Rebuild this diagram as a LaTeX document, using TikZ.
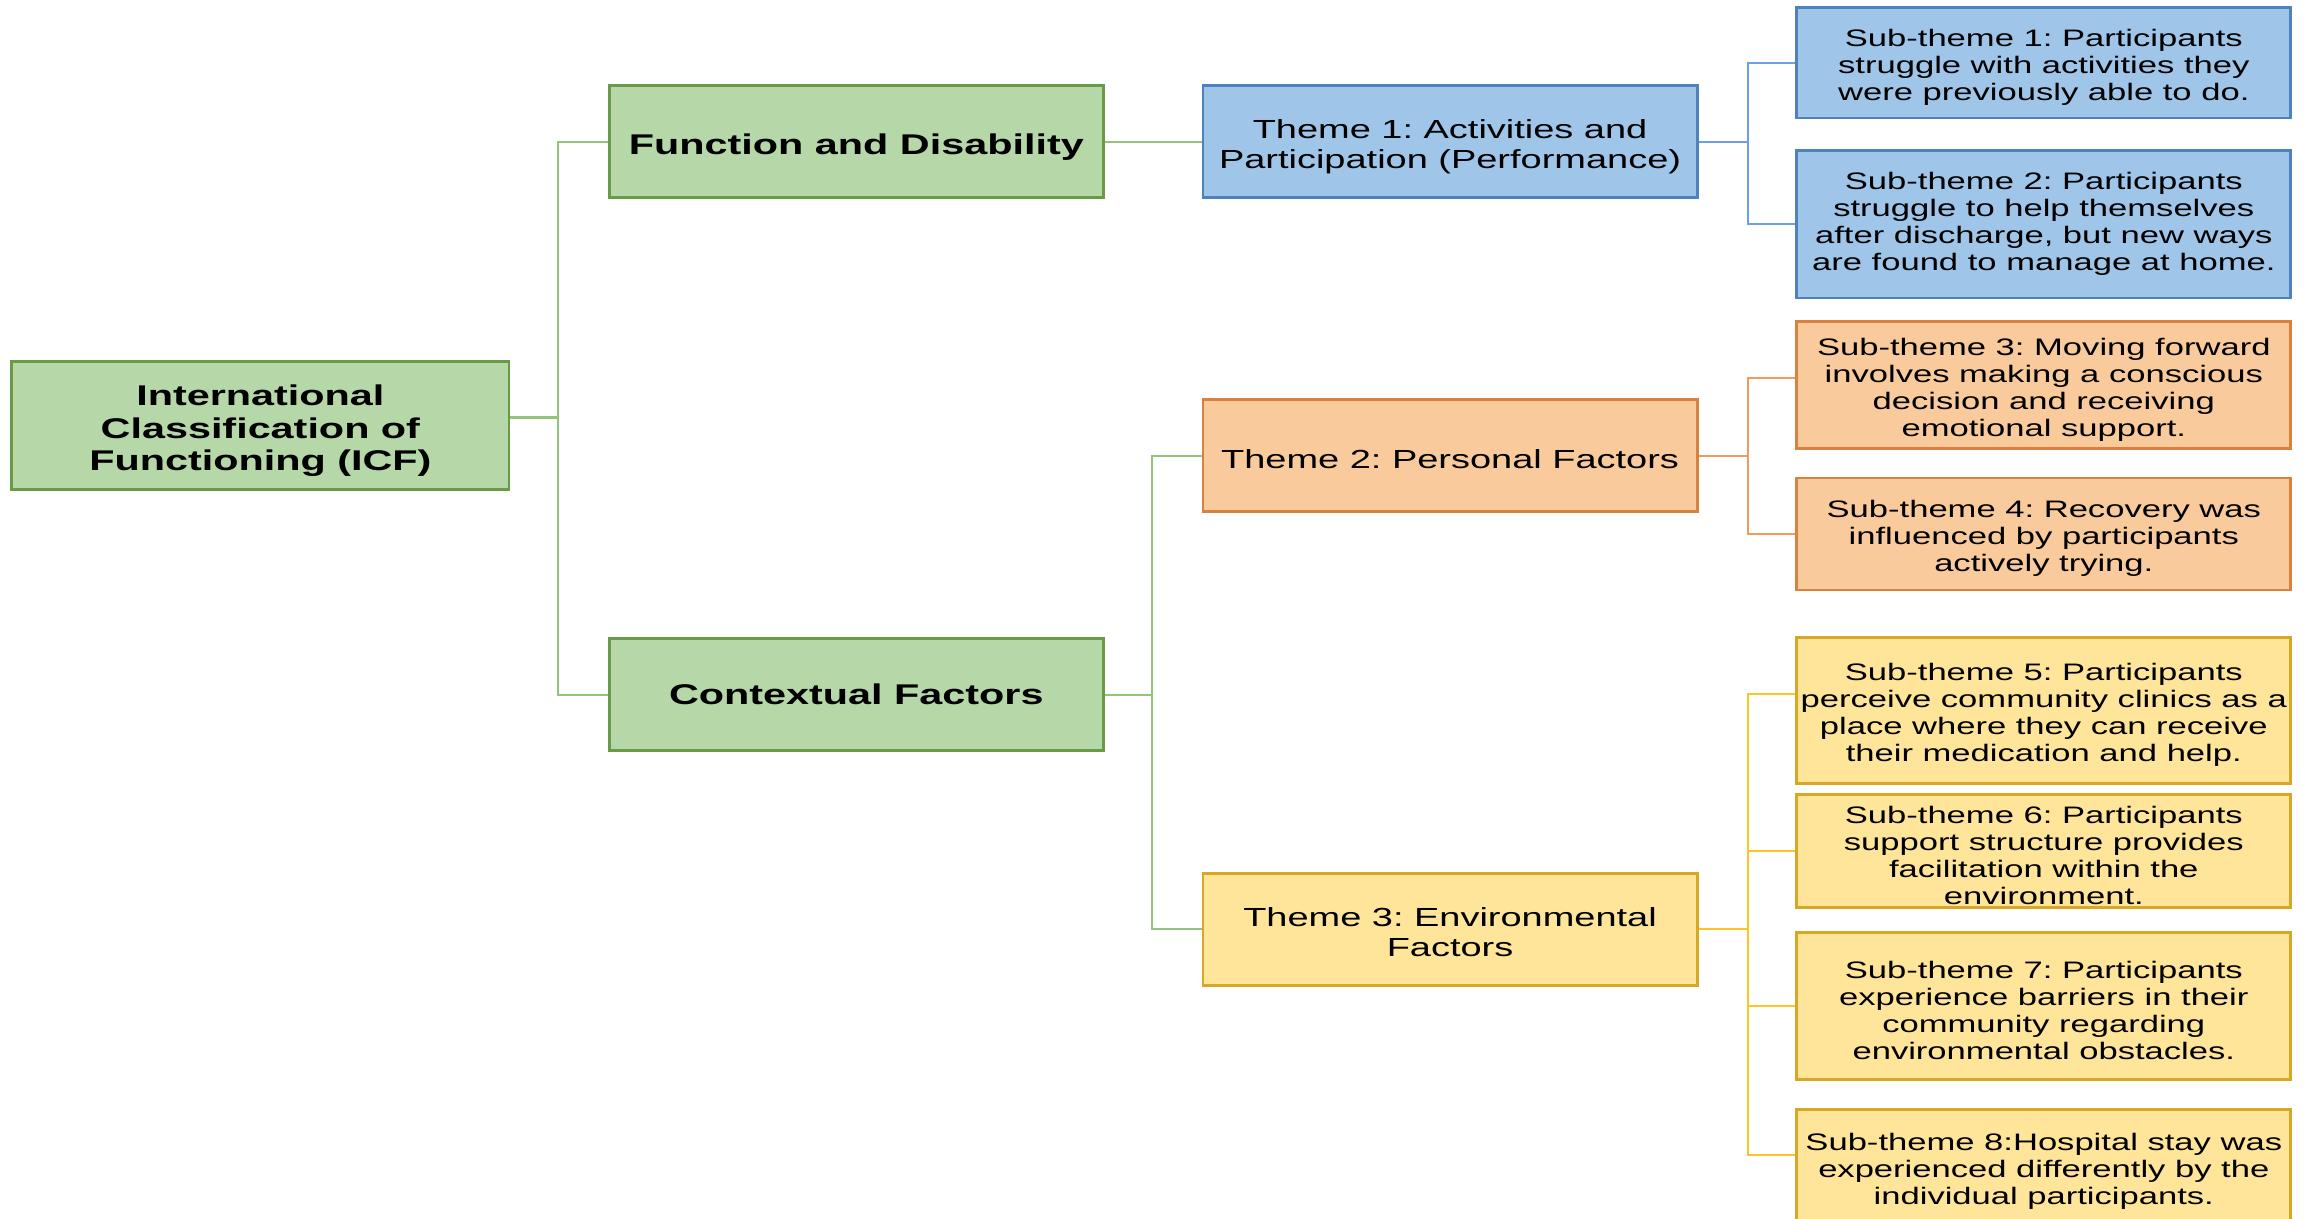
\documentclass[tikz,border=0pt]{standalone}
\usepackage{xcolor}
\usepackage{fontspec}
\setmainfont{Liberation Sans}[FakeStretch=1.45]
\usetikzlibrary{positioning}
\frenchspacing

\definecolor{icfgreen}{HTML}{B6D7A8}
\definecolor{icfgreendark}{HTML}{6A9A48}
\definecolor{icfgreenline}{HTML}{93C47D}
\definecolor{icfblue}{HTML}{9FC5E8}
\definecolor{icfbluedark}{HTML}{4F81BD}
\definecolor{icfblueline}{HTML}{6D9EEB}
\definecolor{icforange}{HTML}{F9CB9C}
\definecolor{icforangedark}{HTML}{D9823F}
\definecolor{icforangeline}{HTML}{F39A5B}
\definecolor{icfyellow}{HTML}{FFE599}
\definecolor{icfyellowdark}{HTML}{D6A826}
\definecolor{icfyellowline}{HTML}{FFC425}

% strut on the first line, pushes the text a little down
\newcommand{\txtlift}[1][1.1em]{\rule{0pt}{#1}}

\begin{document}
\begin{tikzpicture}[x=0.2mm, y=-0.2mm,
  box/.style={draw, line width=1.1pt, align=center, inner sep=1pt, minimum width=67mm},
  mainbox/.style={box, fill=icfgreen, draw=icfgreendark, minimum height=15.2mm,
    font=\fontsize{11}{12.5}\selectfont\bfseries},
  themebox/.style={box, minimum height=15.2mm, font=\fontsize{10.1}{11.6}\selectfont},
  subbox/.style={box, font=\fontsize{9.2}{10.4}\selectfont},
  link/.style={line width=0.8pt}]
  \useasboundingbox (0,0) rectangle (1568,826);

  % Draw main boxes
  \node[mainbox, minimum height=17.4mm, minimum width=67.4mm] (icf) at (176.5,288.5)
    {\txtlift International\\Classification of\\Functioning (ICF)};
  \node[mainbox] (fd) at (580.5,96) {\txtlift Function and Disability};
  \node[mainbox] (cf) at (580.5,471) {Contextual Factors};

  % Draw themes
  \node[themebox, fill=icfblue, draw=icfbluedark] (th1) at (983,96)
    {\txtlift Theme 1: Activities and\\Participation (Performance)};
  \node[themebox, fill=icforange, draw=icforangedark] (th2) at (983,309)
    {\txtlift[0.95em]Theme 2: Personal Factors};
  \node[themebox, fill=icfyellow, draw=icfyellowdark] (th3) at (983,630)
    {\txtlift[0.95em]Theme 3: Environmental\\Factors};

  % Draw sub-themes
  \node[subbox, fill=icfblue, draw=icfbluedark, minimum height=15mm] (st1) at (1385.5,42.5)
    {\txtlift Sub-theme 1: Participants\\struggle with activities they\\were previously able to do.};
  \node[subbox, fill=icfblue, draw=icfbluedark, minimum height=20mm] (st2) at (1385.5,152)
    {Sub-theme 2: Participants\\struggle to help themselves\\after discharge, but new ways\\are found to manage at home.};
  \node[subbox, fill=icforange, draw=icforangedark, minimum height=17.2mm] (st3) at (1385.5,261)
    {\txtlift Sub-theme 3: Moving forward\\involves making a conscious\\decision and receiving\\emotional support.};
  \node[subbox, fill=icforange, draw=icforangedark, minimum height=15.2mm] (st4) at (1385.5,362)
    {\txtlift Sub-theme 4: Recovery was\\influenced by participants\\actively trying.};
  \node[subbox, fill=icfyellow, draw=icfyellowdark, minimum height=19.8mm] (st5) at (1385.5,481.5)
    {\txtlift Sub-theme 5: Participants\\perceive community clinics as a\\place where they can receive\\their medication and help.};
  \node[subbox, fill=icfyellow, draw=icfyellowdark, minimum height=15.2mm] (st6) at (1385.5,577)
    {\txtlift Sub-theme 6: Participants\\support structure provides\\facilitation within the\\environment.};
  \node[subbox, fill=icfyellow, draw=icfyellowdark, minimum height=20mm] (st7) at (1385.5,682)
    {\txtlift Sub-theme 7: Participants\\experience barriers in their\\community regarding\\environmental obstacles.};
  \node[subbox, fill=icfyellow, draw=icfyellowdark, minimum height=16mm] (st8) at (1385.5,792)
    {\txtlift[0.95em]Sub-theme 8:Hospital stay was\\experienced differently by the\\individual participants.};

  % Draw green connectors
  \coordinate (t0) at (378,0);
  \coordinate (t1) at (781,0);
  \coordinate (t2) at (1185,0);
  \draw[link, icfgreenline] ([yshift=1.1mm]icf.east) -- ([yshift=1.1mm]icf.east -| t0);
  \draw[link, icfgreenline] (fd.west) -| (t0 |- cf.west) -- (cf.west);
  \draw[link, icfgreenline] (fd.east) -- (th1.west);
  \draw[link, icfgreenline] (cf.east) -- (cf.east -| t1);
  \draw[link, icfgreenline] (th2.west) -| (t1 |- th3.west) -- (th3.west);

  % Draw theme connectors
  \draw[link, icfblueline] (th1.east) -- (th1.east -| t2);
  \draw[link, icfblueline] (st1.west) -| (t2 |- st2.west) -- (st2.west);
  \draw[link, icforangeline] (th2.east) -- (th2.east -| t2);
  \draw[link, icforangeline] ([yshift=1mm]st3.west) -| (t2 |- st4.west) -- (st4.west);
  \draw[link, icfyellowline] (th3.east) -- (th3.east -| t2);
  \draw[link, icfyellowline] ([yshift=2.2mm]st5.west) -| ([yshift=1.8mm]t2 |- st8.west)
    -- ([yshift=1.8mm]st8.west);
  \draw[link, icfyellowline] (st6.west) -- (st6.west -| t2);
  \draw[link, icfyellowline] (st7.west) -- (st7.west -| t2);
\end{tikzpicture}
\end{document}
